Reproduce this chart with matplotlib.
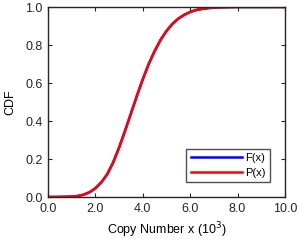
import matplotlib
matplotlib.use("Agg")
import matplotlib.pyplot as plt
from matplotlib.ticker import FormatStrFormatter

plt.rcParams['font.family'] = ['Liberation Sans', 'DejaVu Sans']

x_vals = [0, 0.5, 1.0, 1.25, 1.5, 1.75, 2.0, 2.25, 2.5, 2.75, 3.0, 3.25, 3.5, 3.75,
          4.0, 4.25, 4.5, 4.75, 5.0, 5.25, 5.5, 5.75, 6.0, 6.25, 6.5, 6.75, 7.0, 7.5, 8.0, 10.0]
F_vals = [0, 0.0003, 0.002, 0.005, 0.012, 0.025, 0.046, 0.077, 0.12, 0.182, 0.26, 0.348,
          0.44, 0.532, 0.62, 0.70, 0.768, 0.827, 0.874, 0.911, 0.939, 0.959, 0.974, 0.984,
          0.99, 0.994, 0.997, 0.999, 1.0, 1.0]
P_vals = list(F_vals)
x_ticks = [0, 2, 4, 6, 8, 10]
y_ticks = [0, 0.2, 0.4, 0.6, 0.8, 1.0]

fig = plt.figure(figsize=(2.98, 2.40), dpi=100)
ax = fig.add_axes([48/298, 1 - 197/240, (285-48)/298, (197-7)/240])

ax.plot(x_vals, F_vals, color='#0000ff', lw=1.8, label='F(x)')
ax.plot(x_vals, P_vals, color='#ff0000', lw=1.8, label='P(x)')

ax.set_xlim(0, 10)
ax.set_ylim(0, 1)
ax.set_xticks(x_ticks)
ax.set_yticks(y_ticks)
ax.xaxis.set_major_formatter(FormatStrFormatter('%.1f'))
ax.yaxis.set_major_formatter(FormatStrFormatter('%.1f'))
ax.tick_params(direction='in', top=True, right=True, length=3, width=0.8,
               labelsize=9, colors='#262626', pad=4)
for s in ax.spines.values():
    s.set_linewidth(1.0)
    s.set_color('#262626')

ax.set_xlabel('Copy Number x (10$^3$)', fontsize=9, labelpad=4)
ax.set_ylabel('CDF', fontsize=9, labelpad=6)

leg = ax.legend(loc='lower right', fontsize=8, frameon=True, fancybox=False,
                edgecolor='#262626', handlelength=4.6, borderpad=0.4,
                labelspacing=0.4, handletextpad=0.3, borderaxespad=0,
                bbox_to_anchor=(0.937, 0.079))
leg.get_frame().set_linewidth(1.0)

fig.savefig('out.png', dpi=100)
